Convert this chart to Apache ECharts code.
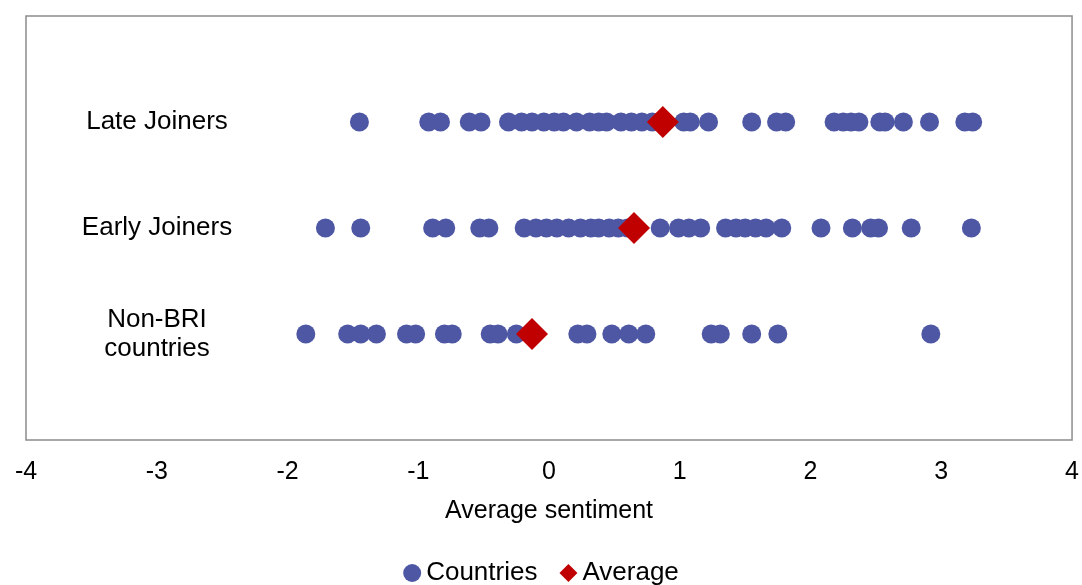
<!DOCTYPE html>
<html>
<head>
<meta charset="utf-8">
<script src="https://cdn.jsdelivr.net/npm/echarts@6/dist/echarts.min.js"></script>
<style>html,body{margin:0;padding:0;background:#fff}#c{width:1082px;height:585px}</style>
</head>
<body>
<div id="c"></div>
<script>
const categories = ['Non-BRI\ncountries', 'Early Joiners', 'Late Joiners'];
const nonBRI = [-1.86, -1.54, -1.44, -1.32, -1.09, -1.02, -0.80, -0.74, -0.45, -0.39, -0.25, 0.22, 0.29, 0.48, 0.61, 0.74, 1.24, 1.31, 1.55, 1.75, 2.92];
const earlyJoiners = [-1.71, -1.44, -0.89, -0.79, -0.53, -0.46, -0.19, -0.10, -0.02, 0.06, 0.15, 0.24, 0.32, 0.38, 0.46, 0.53, 0.60, 0.85, 0.99, 1.07, 1.16, 1.35, 1.43, 1.50, 1.58, 1.66, 1.78, 2.08, 2.32, 2.46, 2.52, 2.77, 3.23];
const lateJoiners = [-1.45, -0.92, -0.83, -0.61, -0.52, -0.31, -0.21, -0.13, -0.04, 0.04, 0.11, 0.21, 0.31, 0.38, 0.44, 0.55, 0.63, 0.71, 0.79, 1.03, 1.08, 1.22, 1.55, 1.74, 1.81, 2.18, 2.25, 2.31, 2.37, 2.53, 2.57, 2.71, 2.91, 3.18, 3.24];
const averages = [-0.13, 0.65, 0.87];
const xTicks = [-4, -3, -2, -1, 0, 1, 2, 3, 4];

const groups = [nonBRI, earlyJoiners, lateJoiners];
const countryData = [];
groups.forEach((g, i) => g.forEach(v => countryData.push([v, i + 1])));
const avgData = averages.map((v, i) => [v, i + 1]);

const chart = echarts.init(document.getElementById('c'));
const font = 'Liberation Sans, Arial, sans-serif';
chart.setOption({
  animation: false,
  textStyle: { fontFamily: font },
  grid: { left: 26, right: 8, top: 16, bottom: 145, show: true, borderColor: '#8c8c8c', borderWidth: 1.5, containLabel: false },
  xAxis: {
    type: 'value', min: xTicks[0], max: xTicks[xTicks.length - 1], interval: 1,
    name: 'Average sentiment', nameLocation: 'middle', nameGap: 59,
    nameTextStyle: { fontSize: 25, color: '#000', fontFamily: font },
    axisLine: { show: false }, axisTick: { show: false }, splitLine: { show: false },
    axisLabel: { fontSize: 25, color: '#000', margin: 20, fontFamily: font }
  },
  yAxis: {
    type: 'value', min: 0, max: 4, interval: 1,
    axisLine: { show: false }, axisTick: { show: false }, splitLine: { show: false },
    axisLabel: {
      inside: true, margin: 131, align: 'center', fontSize: 26, color: '#000', lineHeight: 29, fontFamily: font,
      formatter: v => (v >= 1 && v <= 3) ? categories[v - 1] : ''
    }
  },
  legend: {
    bottom: -6, left: 'center', itemGap: 22, itemWidth: 18, itemHeight: 18,
    textStyle: { fontSize: 26, color: '#000', fontFamily: font, padding: [0, 0, 0, 0] },
    data: [{ name: 'Countries', icon: 'circle' }, { name: 'Average', icon: 'diamond' }]
  },
  series: [
    { name: 'Countries', type: 'scatter', data: countryData, symbol: 'circle', symbolSize: 19,
      itemStyle: { color: '#4E57A4', opacity: 1 } },
    { name: 'Average', type: 'scatter', data: avgData, symbol: 'diamond', symbolSize: 32, z: 5,
      itemStyle: { color: '#C00000', opacity: 1 } }
  ]
});
</script>
</body>
</html>
